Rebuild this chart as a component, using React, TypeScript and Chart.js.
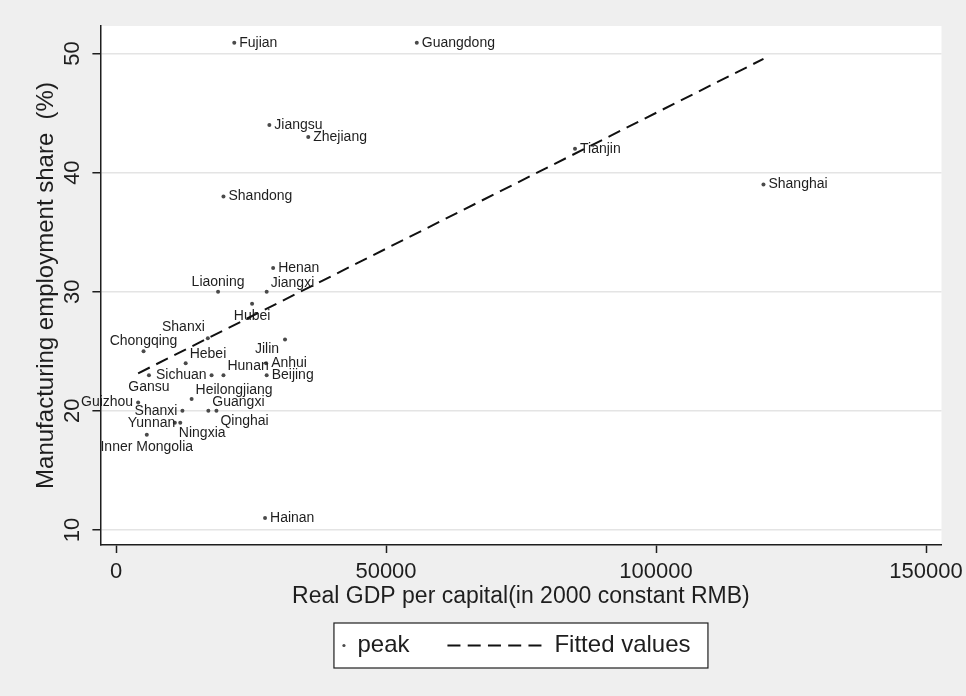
import React, { useEffect, useRef } from "react";
import { Chart, registerables } from "chart.js";

Chart.register(...registerables);

// ---- data ----
const provinces = [
  "Fujian", "Guangdong", "Jiangsu", "Zhejiang", "Tianjin", "Shanghai", "Shandong",
  "Henan", "Jiangxi", "Liaoning", "Hubei", "Shanxi", "Chongqing", "Hebei", "Jilin",
  "Anhui", "Hunan", "Sichuan", "Beijing", "Gansu", "Heilongjiang", "Guangxi",
  "Guizhou", "Shanxi", "Yunnan", "Ningxia", "Qinghai", "Inner Mongolia", "Hainan",
];
const gdpPerCapita = [
  21900, 55700, 28400, 35600, 85000, 119900, 19900,
  29100, 27900, 18900, 25200, 17000, 5100, 12900, 31300,
  27800, 19900, 17700, 27900, 6100, 14000, 17100,
  4100, 12300, 11900, 10900, 18600, 5700, 27600,
];
const mfgShare = [
  50.9, 50.9, 44, 43, 42, 39, 38,
  32, 30, 30, 29, 26.1, 25, 24, 26,
  24, 23, 23, 23, 23, 21, 20,
  20.7, 20, 19, 19, 20, 18, 11,
];
// marker-label clock positions (Stata style mlabvposition)
const labelClock = [
  3, 3, 3, 3, 3, 3, 3,
  3, 2, 12, 6, 11, 12, 2, 7,
  3, 2, 9, 3, 6, 2, 2,
  9, 9, 9, 4, 4, 6, 3,
];
const fitX = [4100, 119900];
const fitY = [23.15, 49.55];

const xTickValues = [0, 50000, 100000, 150000];
const yTickValues = [10, 20, 30, 40, 50];
const xTitle = "Real GDP per capital(in 2000 constant RMB)";
const yTitle = "Manufacturing employment share  (%)";
const legendLabels = ["peak", "Fitted values"];

const FONT = "'Liberation Sans', Arial, Helvetica, sans-serif";
const INK = "#1e1e1e";
const DOT = "#4a4a4a";
const DASH = [13, 7.25];

const clockOffsets: Record<number, [number, number, CanvasTextAlign]> = {
  2: [4, -9, "left"],
  3: [5, 0, "left"],
  4: [4, 10, "left"],
  6: [0, 12, "center"],
  7: [-6, 10, "right"],
  9: [-5, 0, "right"],
  11: [-3, -11, "right"],
  12: [0, -10, "center"],
};

const backgroundPlugin = {
  id: "bgPlugin",
  beforeDraw(chart: any) {
    const { ctx, chartArea, width, height } = chart;
    ctx.save();
    ctx.fillStyle = "#efefef";
    ctx.fillRect(0, 0, width, height);
    ctx.fillStyle = "#ffffff";
    ctx.fillRect(chartArea.left, chartArea.top, chartArea.right - chartArea.left, chartArea.bottom - chartArea.top);
    ctx.restore();
  },
};

const pointLabelPlugin = {
  id: "pointLabelPlugin",
  afterDatasetDraw(chart: any, args: any) {
    if (args.index !== 0) return;
    const { ctx } = chart;
    const meta = chart.getDatasetMeta(0);
    ctx.save();
    ctx.font = `14px ${FONT}`;
    ctx.fillStyle = INK;
    ctx.textBaseline = "middle";
    meta.data.forEach((el: any, i: number) => {
      const [dx, dy, align] = clockOffsets[labelClock[i]] || clockOffsets[3];
      ctx.textAlign = align;
      ctx.fillText(provinces[i], el.x + dx, el.y + dy);
    });
    ctx.restore();
  },
};

const legendBoxPlugin = {
  id: "legendBoxPlugin",
  afterDraw(chart: any) {
    const { ctx, chartArea } = chart;
    const cx = (chartArea.left + chartArea.right) / 2;
    const boxW = 374;
    const boxH = 45;
    const top = chartArea.bottom + 78;
    const left = cx - boxW / 2;
    const midY = top + boxH / 2;
    ctx.save();
    ctx.fillStyle = "#ffffff";
    ctx.fillRect(left, top, boxW, boxH);
    ctx.strokeStyle = INK;
    ctx.lineWidth = 1.2;
    ctx.strokeRect(left, top, boxW, boxH);
    // marker
    ctx.fillStyle = DOT;
    ctx.beginPath();
    ctx.arc(cx - 177, midY, 1.6, 0, Math.PI * 2);
    ctx.fill();
    ctx.fillStyle = INK;
    ctx.font = `24px ${FONT}`;
    ctx.textBaseline = "middle";
    ctx.textAlign = "left";
    ctx.fillText(legendLabels[0], cx - 163.5, midY);
    // dashed line
    ctx.strokeStyle = "#111";
    ctx.lineWidth = 2;
    ctx.setLineDash(DASH);
    ctx.beginPath();
    ctx.moveTo(cx - 73.5, midY);
    ctx.lineTo(cx + 20.5, midY);
    ctx.stroke();
    ctx.setLineDash([]);
    ctx.fillText(legendLabels[1], cx + 33.5, midY);
    ctx.restore();
  },
};

export default function App() {
  const canvasRef = useRef<HTMLCanvasElement | null>(null);

  useEffect(() => {
    if (!canvasRef.current) return;
    const scatterPoints = gdpPerCapita.map((x, i) => ({ x, y: mfgShare[i] }));
    const fitPoints = fitX.map((x, i) => ({ x, y: fitY[i] }));

    const chart = new Chart(canvasRef.current, {
      type: "scatter",
      data: {
        datasets: [
          {
            label: legendLabels[0],
            data: scatterPoints,
            pointRadius: 2,
            pointBackgroundColor: DOT,
            pointBorderWidth: 0,
            order: 2,
          },
          {
            type: "line",
            label: legendLabels[1],
            data: fitPoints,
            showLine: true,
            borderColor: "#111",
            borderWidth: 2,
            borderDash: DASH,
            pointRadius: 0,
            fill: false,
            order: 1,
          } as any,
        ],
      },
      options: {
        animation: false,
        responsive: false,
        maintainAspectRatio: false,
        layout: { padding: { left: 0, right: 24.5, top: 26, bottom: 0 } },
        plugins: {
          legend: { display: false },
          tooltip: { enabled: false },
        },
        scales: {
          x: {
            type: "linear",
            min: -2890,
            max: 152870,
            afterBuildTicks: (s: any) => {
              s.ticks = xTickValues.map((v) => ({ value: v }));
            },
            afterFit: (s: any) => {
              s.height = 151;
              s.paddingLeft = 0;
              s.paddingRight = 0;
            },
            ticks: {
              font: { family: FONT, size: 22 },
              color: INK,
              padding: 6,
              maxRotation: 0,
              minRotation: 0,
              callback: (v: any) => String(v),
            },
            grid: {
              drawOnChartArea: false,
              drawTicks: true,
              tickLength: 8,
              tickColor: INK,
              tickWidth: 1.5,
            },
            border: { display: true, color: INK, width: 1.5 },
            title: {
              display: true,
              text: xTitle,
              font: { family: FONT, size: 23 },
              color: INK,
              padding: { top: 0, bottom: 86 },
            },
          },
          y: {
            type: "linear",
            min: 8.74,
            max: 52.31,
            afterBuildTicks: (s: any) => {
              s.ticks = yTickValues.map((v) => ({ value: v }));
            },
            afterFit: (s: any) => {
              s.width = 100.4;
              s.paddingTop = 0;
              s.paddingBottom = 0;
            },
            ticks: {
              font: { family: FONT, size: 22 },
              color: INK,
              padding: 7,
              minRotation: 90,
              maxRotation: 90,
              crossAlign: "center",
              callback: (v: any) => String(v),
            },
            grid: {
              color: "#e4e4e4",
              lineWidth: 1.5,
              drawTicks: true,
              tickLength: 8,
              tickColor: INK,
              tickWidth: 1.5,
            },
            border: { display: true, color: INK, width: 1.5 },
            title: {
              display: true,
              text: yTitle,
              font: { family: FONT, size: 24 },
              color: INK,
              padding: { top: 32, bottom: 0 },
            },
          },
        },
      },
      plugins: [backgroundPlugin, pointLabelPlugin, legendBoxPlugin],
    });
    return () => chart.destroy();
  }, []);

  return (
    <div style={{ position: "absolute", left: 0, top: 0, width: 966, height: 696 }}>
      <canvas ref={canvasRef} width={966} height={696} style={{ display: "block" }} />
    </div>
  );
}
